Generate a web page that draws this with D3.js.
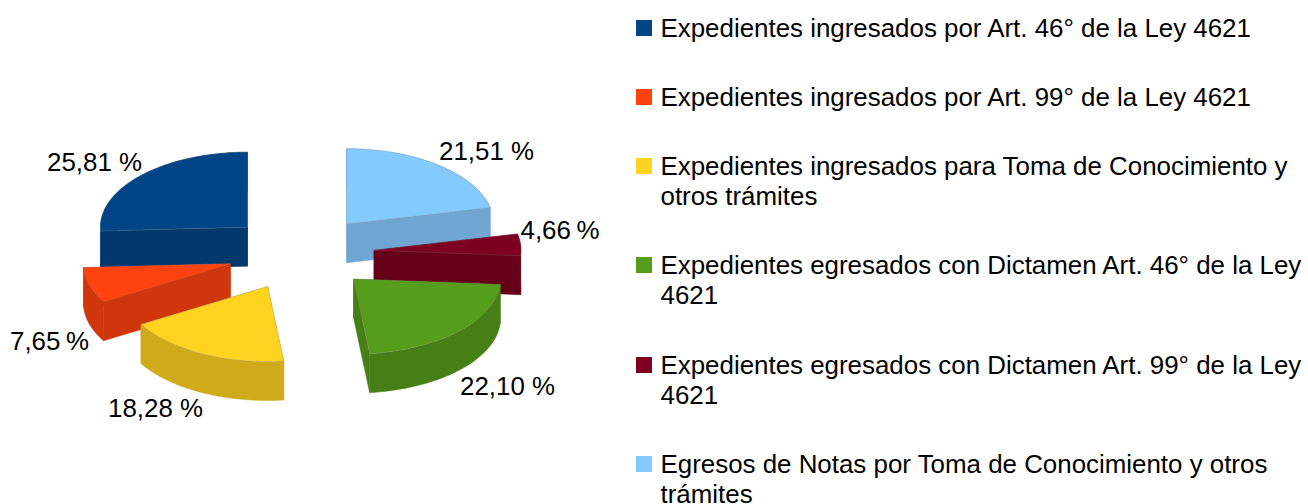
<!DOCTYPE html>
<html>
<head>
<meta charset="utf-8">
<script src="https://cdn.jsdelivr.net/npm/d3@7"></script>
<style>
  html, body { margin: 0; padding: 0; background: #fff; overflow: hidden; }
  text { font-family: "Liberation Sans", Arial, sans-serif; fill: #000; }
</style>
</head>
<body>
<svg id="chart" width="1308" height="504"></svg>
<script>
  // Data
  const categories = [
    "Expedientes ingresados por Art. 46° de la Ley 4621",
    "Expedientes ingresados por Art. 99° de la Ley 4621",
    "Expedientes ingresados para Toma de Conocimiento y otros trámites",
    "Expedientes egresados con Dictamen Art. 46° de la Ley 4621",
    "Expedientes egresados con Dictamen Art. 99° de la Ley 4621",
    "Egresos de Notas por Toma de Conocimiento y otros trámites"
  ];
  const values = [25.81, 7.65, 18.28, 22.10, 4.66, 21.51];

  // Colours
  const topColors = ["#004586", "#ff420e", "#ffd320", "#579d1c", "#7e0021", "#83caff"];
  const wallColors = ["#03386c", "#cf360c", "#cfab1a", "#477f17", "#660019", "#6fa6d2"];

  // Layout
  const centerX = 300.7, centerY = 253, radiusX = 147, radiusY = 75;
  const depth = 39;
  const explode = 0.5;
  const fontSize = 25.9;
  const labelPos = [[47, 170.5], [10, 349.5], [108, 417], [460, 395], [520.5, 238.5], [439, 160]];
  const legendX = 636, legendTextX = 660.5, swatchSize = 16, legendWrap = 645, lineGap = 30.3;
  const legendRowTops = [20, 89, 158, 257, 357, 456];

  const svg = d3.select("#chart");

  const x = d3.scaleLinear().domain([-1, 1]).range([centerX - radiusX, centerX + radiusX]);
  const y = d3.scaleLinear().domain([-1, 1]).range([centerY + radiusY, centerY - radiusY]);

  // Counter-clockwise from 12 o'clock
  const pie = d3.pie().sort(null).startAngle(0).endAngle(-2 * Math.PI);
  const slices = pie(values).map((d, i) => {
    const mid = (d.startAngle + d.endAngle) / 2;
    return {
      index: i,
      start: d.startAngle,
      end: d.endAngle,
      offX: explode * Math.sin(mid),
      offY: explode * Math.cos(mid)
    };
  });

  const line = d3.line().x(p => p[0]).y(p => p[1]);

  function pointAt(s, a, r, drop) {
    return [x(s.offX + r * Math.sin(a)), y(s.offY + r * Math.cos(a)) + drop];
  }

  function rimPoints(s, drop) {
    const n = 60;
    return d3.range(n + 1).map(k => pointAt(s, s.start + (s.end - s.start) * k / n, 1, drop));
  }

  // Paint the back slices first
  slices.sort((a, b) => d3.ascending(y(a.offY), y(b.offY)));

  const groups = svg.selectAll("g.slice").data(slices).enter().append("g").attr("class", "slice");

  // Three wall pieces per slice: outer wall and both cut faces, in the darker shade
  const wallPieces = s => {
    const apex = pointAt(s, 0, 0, 0), apexLow = pointAt(s, 0, 0, depth);
    const rimTop = rimPoints(s, 0), rimLow = rimPoints(s, depth);
    return [
      rimTop.concat(rimLow.slice().reverse()),
      [apex, rimTop[0], rimLow[0], apexLow],
      [apex, rimTop[60], rimLow[60], apexLow]
    ];
  };

  groups.selectAll("path.wall").data(s => wallPieces(s).map(points => ({ points, index: s.index })))
    .enter().append("path")
    .attr("class", "wall")
    .attr("d", d => line(d.points) + "Z")
    .attr("fill", d => wallColors[d.index])
    .attr("stroke", d => wallColors[d.index])
    .attr("stroke-width", 0.5);

  // Top face
  groups.append("path")
    .attr("d", s => line([pointAt(s, 0, 0, 0)].concat(rimPoints(s, 0))) + "Z")
    .attr("fill", s => topColors[s.index])
    .attr("stroke", "#8a8a8a")
    .attr("stroke-opacity", 0.5)
    .attr("stroke-width", 0.5);

  // Value labels, the short ones sit a bit tighter before the % sign
  const fmt = d3.format(".2f");
  svg.selectAll("text.value").data(values).enter().append("text")
    .attr("class", "value")
    .attr("x", (d, i) => labelPos[i][0])
    .attr("y", (d, i) => labelPos[i][1])
    .attr("font-size", fontSize)
    .attr("word-spacing", d => d < 10 ? -1.5 : 0)
    .text(d => fmt(d).replace(".", ",") + " %");

  // Legend
  const rows = svg.selectAll("g.legend").data(categories).enter().append("g").attr("class", "legend");

  rows.append("rect")
    .attr("x", legendX)
    .attr("y", (d, i) => legendRowTops[i])
    .attr("width", swatchSize)
    .attr("height", swatchSize)
    .attr("fill", (d, i) => topColors[i]);

  rows.append("text")
    .attr("font-size", fontSize)
    .each(function(d, i) {
      const t = d3.select(this);
      const base = legendRowTops[i] + 16.5;
      let row = 0;
      let span = t.append("tspan").attr("x", legendTextX).attr("y", base);
      let current = "";
      d.split(" ").forEach(word => {
        const next = current ? current + " " + word : word;
        span.text(next);
        if (span.node().getComputedTextLength() > legendWrap && current) {
          span.text(current);
          row += 1;
          span = t.append("tspan").attr("x", legendTextX).attr("y", base + row * lineGap).text(word);
          current = word;
        } else {
          current = next;
        }
      });
    });
</script>
</body>
</html>
